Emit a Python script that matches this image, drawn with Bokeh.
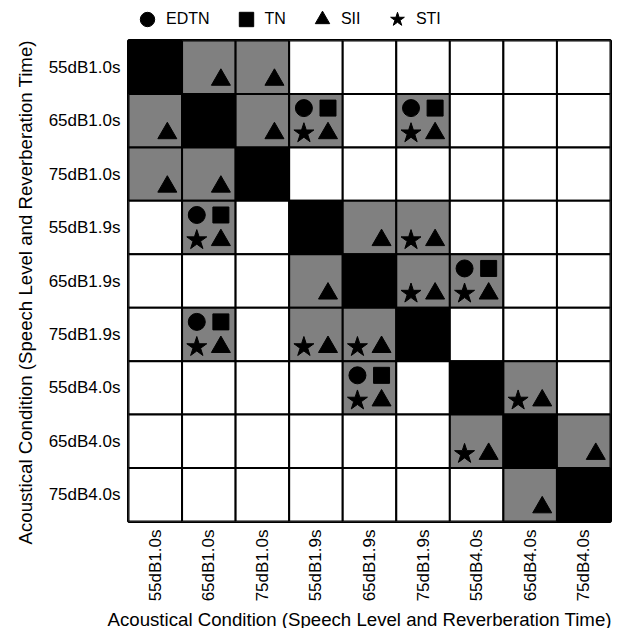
import math
import numpy as np
from bokeh.plotting import figure
from bokeh.layouts import column
from bokeh.models import FactorRange, Legend, LegendItem, ColumnDataSource, Title
from bokeh.transform import dodge
from bokeh.embed import file_html
from bokeh.resources import INLINE

conditions = ["55dB1.0s", "65dB1.0s", "75dB1.0s",
              "55dB1.9s", "65dB1.9s", "75dB1.9s",
              "55dB4.0s", "65dB4.0s", "75dB4.0s"]

# significant pairs (row condition, column condition) per measure
edtn_pairs = [("65dB1.0s", "55dB1.9s"), ("65dB1.0s", "75dB1.9s"),
              ("55dB1.9s", "65dB1.0s"), ("65dB1.9s", "55dB4.0s"),
              ("75dB1.9s", "65dB1.0s"), ("55dB4.0s", "65dB1.9s")]
tn_pairs = [("65dB1.0s", "55dB1.9s"), ("65dB1.0s", "75dB1.9s"),
            ("55dB1.9s", "65dB1.0s"), ("65dB1.9s", "55dB4.0s"),
            ("75dB1.9s", "65dB1.0s"), ("55dB4.0s", "65dB1.9s")]
sti_pairs = [("65dB1.0s", "55dB1.9s"), ("65dB1.0s", "75dB1.9s"),
             ("55dB1.9s", "65dB1.0s"), ("55dB1.9s", "75dB1.9s"),
             ("65dB1.9s", "75dB1.9s"), ("65dB1.9s", "55dB4.0s"),
             ("75dB1.9s", "65dB1.0s"), ("75dB1.9s", "55dB1.9s"),
             ("75dB1.9s", "65dB1.9s"), ("55dB4.0s", "65dB1.9s"),
             ("55dB4.0s", "65dB4.0s"), ("65dB4.0s", "55dB4.0s")]
sii_pairs = [("55dB1.0s", "65dB1.0s"), ("55dB1.0s", "75dB1.0s"),
             ("65dB1.0s", "55dB1.0s"), ("65dB1.0s", "75dB1.0s"),
             ("65dB1.0s", "55dB1.9s"), ("65dB1.0s", "75dB1.9s"),
             ("75dB1.0s", "55dB1.0s"), ("75dB1.0s", "65dB1.0s"),
             ("55dB1.9s", "65dB1.0s"), ("55dB1.9s", "65dB1.9s"),
             ("55dB1.9s", "75dB1.9s"),
             ("65dB1.9s", "55dB1.9s"), ("65dB1.9s", "75dB1.9s"),
             ("65dB1.9s", "55dB4.0s"),
             ("75dB1.9s", "65dB1.0s"), ("75dB1.9s", "55dB1.9s"),
             ("75dB1.9s", "65dB1.9s"),
             ("55dB4.0s", "65dB1.9s"), ("55dB4.0s", "65dB4.0s"),
             ("65dB4.0s", "55dB4.0s"), ("65dB4.0s", "75dB4.0s"),
             ("75dB4.0s", "65dB4.0s")]

measures = ["EDTN", "TN", "SII", "STI"]
axis_title = "Acoustical Condition (Speech Level and Reverberation Time)"
FONT = "Liberation Sans"

# cell table
sig_any = set(edtn_pairs) | set(tn_pairs) | set(sti_pairs) | set(sii_pairs)
cx, cy, cc = [], [], []
for r in conditions:
    for c in conditions:
        cx.append(c)
        cy.append(r)
        if r == c:
            cc.append("#000000")
        elif (r, c) in sig_any:
            cc.append("#808080")
        else:
            cc.append("#ffffff")
cells = ColumnDataSource(dict(x=cx, y=cy, color=cc))

def src(pairs):
    return ColumnDataSource(dict(x=[p[1] for p in pairs], y=[p[0] for p in pairs]))

p = figure(frame_width=482, frame_height=481, output_backend="svg", toolbar_location=None,
           x_range=FactorRange(*conditions),
           y_range=FactorRange(*reversed(conditions)),
           min_border_left=128, min_border_right=8, min_border_top=3,
           min_border_bottom=106)

p.rect(x="x", y="y", width=1, height=1, source=cells, fill_color="color",
       line_color="black", line_width=2)

dx, dy = 0.225, 0.235
styles = dict(circle=(17, -dx, dy), square=(16, dx, dy),
              triangle=(19, dx, -dy), star=(21, -dx, -dy))
marker_of = dict(EDTN="circle", TN="square", SII="triangle", STI="star")
pairs_of = dict(EDTN=edtn_pairs, TN=tn_pairs, SII=sii_pairs, STI=sti_pairs)

for m in measures:
    mk = marker_of[m]
    size, ox, oy = styles[mk]
    p.scatter(x=dodge("x", ox, range=p.x_range), y=dodge("y", oy, range=p.y_range),
              source=src(pairs_of[m]), marker=mk, size=size,
              fill_color="black", line_color="black")

p.outline_line_color = "black"
p.outline_line_width = 3
p.grid.visible = False

for ax in (p.xaxis[0], p.yaxis[0]):
    ax.axis_line_color = None
    ax.major_tick_line_color = None
    ax.minor_tick_line_color = None
    ax.major_tick_out = 0
    ax.major_tick_in = 0
    ax.major_label_text_font = FONT
    ax.major_label_text_font_size = "17px"
    ax.major_label_text_color = "black"
    ax.major_label_standoff = 8

p.xaxis.major_label_orientation = math.pi / 2

xt = Title(text=axis_title, align="left", offset=-21, standoff=8,
           vertical_align="top", text_font=FONT, text_font_size="14pt",
           text_font_style="normal", text_color="black")
p.add_layout(xt, "below")
yt = Title(text=axis_title, align="left", offset=-23, standoff=20,
           vertical_align="bottom", text_font=FONT, text_font_size="14pt",
           text_font_style="normal", text_color="black")
p.add_layout(yt, "left")

# legend strip above the grid (legend keys use NaN-positioned proxies)
lf = figure(width=618, height=37, output_backend="svg", toolbar_location=None,
            x_axis_location=None, y_axis_location=None, min_border=0,
            x_range=(0, 1), y_range=(0, 1))
lf.grid.visible = False
lf.outline_line_color = None
items = []
for m in measures:
    rr = lf.scatter(x=np.array([np.nan]), y=np.array([np.nan]), marker=marker_of[m],
                    fill_color="black", line_color="black")
    items.append(LegendItem(label=m, renderers=[rr]))

legend = Legend(items=items, orientation="horizontal", location="left",
                glyph_width=38, glyph_height=36, label_standoff=-4,
                spacing=17, padding=0, margin=0,
                label_text_font=FONT, label_text_font_size="16px",
                label_text_color="black",
                border_line_color=None, background_fill_alpha=0)
lf.add_layout(legend, "center")

layout = column(lf, p, spacing=0)
open("out.html", "w").write(file_html(layout, INLINE))
